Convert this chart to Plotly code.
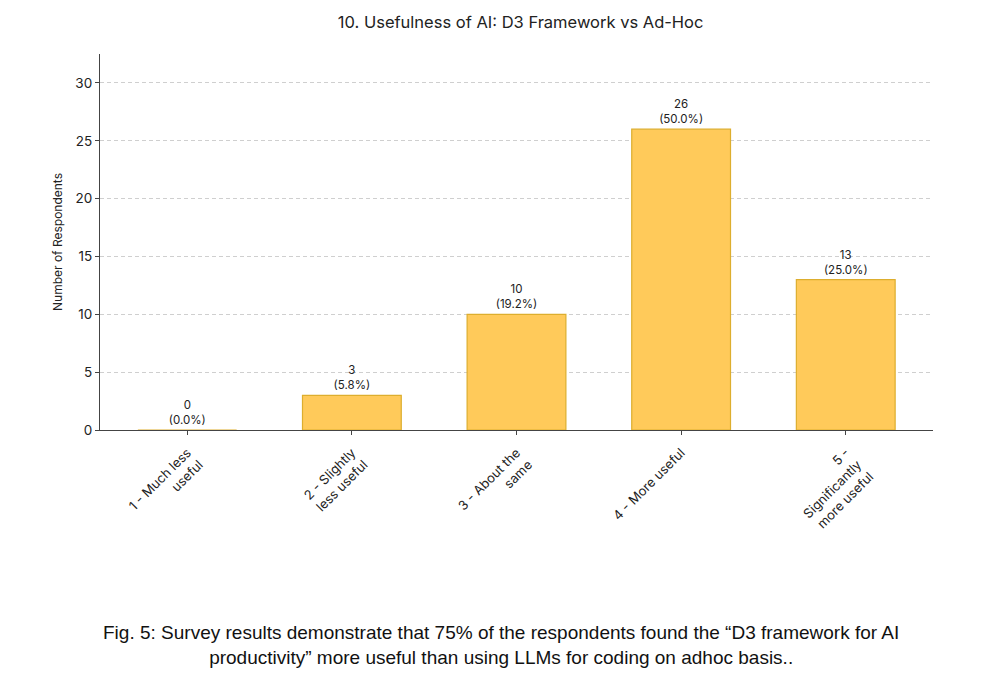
import plotly.graph_objects as go

categories = ["1 - Much less<br>useful", "2 - Slightly<br>less useful", "3 - About the<br>same",
              "4 - More useful", "5 -<br>Significantly<br>more useful"]
counts = [0, 3, 10, 26, 13]
percents = [0.0, 5.8, 19.2, 50.0, 25.0]
labels = [f"{c}<br>({p:.1f}%)" for c, p in zip(counts, percents)]

FONT = "Inter, Roboto, sans-serif"

fig = go.Figure(go.Bar(
    x=list(range(len(categories))), y=counts,
    width=0.6,
    marker=dict(color="#FFCA5A", line=dict(color="#DDAE2E", width=1.2)),
    text=labels, textposition="outside", cliponaxis=False,
    textfont=dict(family=FONT, size=11.5, color="#222"),
))

fig.update_layout(
    width=1008, height=689,
    paper_bgcolor="white", plot_bgcolor="white",
    margin=dict(l=100, r=75, t=54, b=259),
    showlegend=False,
    title=dict(text="10. Usefulness of AI: D3 Framework vs Ad-Hoc", x=0.5165, xanchor="center",
               y=0.968, yanchor="middle", font=dict(family=FONT, size=16.5, color="#222")),
    font=dict(family=FONT, color="#222"),
)
fig.update_xaxes(
    tickmode="array", tickvals=list(range(len(categories))), ticktext=categories,
    range=[-0.53, 4.53], tickangle=-45, showgrid=False, zeroline=False,
    showline=True, linecolor="#444", linewidth=1.2,
    ticks="outside", ticklen=4, tickcolor="#444", ticklabelstandoff=5,
    tickfont=dict(family=FONT, size=13, color="#222"),
)
fig.update_yaxes(
    range=[0, 32.5], tickvals=[0, 5, 10, 15, 20, 25, 30],
    showgrid=True, gridcolor="#cfcfcf", griddash="4px,3px", gridwidth=1,
    zeroline=False, showline=True, linecolor="#444", linewidth=1.2,
    ticks="outside", ticklen=4, tickcolor="#444",
    tickfont=dict(family=FONT, size=13.5, color="#222"),
    title=dict(text="Number of Respondents", font=dict(family=FONT, size=12, color="#222"), standoff=10),
)

fig.add_annotation(
    text="Fig. 5: Survey results demonstrate that 75% of the respondents found the \u201cD3 framework for AI<br>productivity\u201d more useful than using LLMs for coding on adhoc basis..",
    xref="paper", yref="paper", x=(501 - 100) / 833, y=(430 - 645) / 376,
    xanchor="center", yanchor="middle", showarrow=False, align="center",
    font=dict(family="Liberation Sans, Arial, sans-serif", size=19, color="#111"),
)

fig.write_html("out.html")
